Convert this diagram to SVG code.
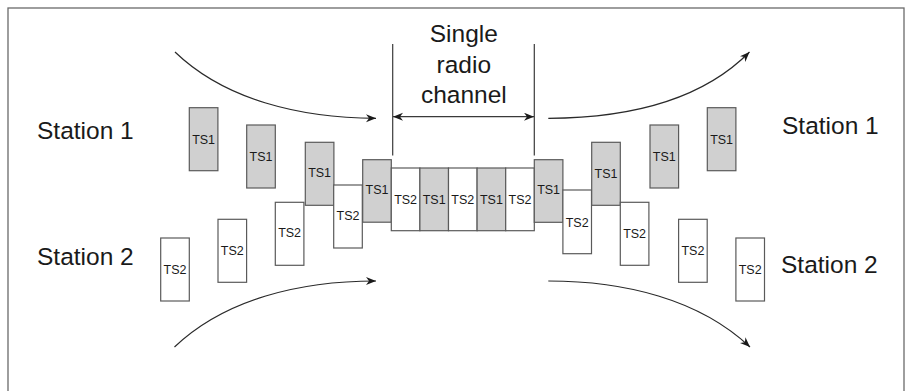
<svg xmlns="http://www.w3.org/2000/svg" width="911" height="391" viewBox="0 0 911 391">
  <style>
    .frame { fill: none; stroke: #6a6a6a; stroke-width: 1.3; }
    .ts1 { fill: #d0d0d0; stroke: #5a5a5a; stroke-width: 1.2; }
    .ts2 { fill: #ffffff; stroke: #5a5a5a; stroke-width: 1.2; }
    .slot { font-family: "Liberation Sans", Arial, sans-serif; font-size: 12.5px; fill: #1a1a1a; text-anchor: middle; }
    .big { font-family: "Liberation Sans", Arial, sans-serif; font-size: 24.5px; fill: #1a1a1a; }
    .mid { text-anchor: middle; }
    .flow { fill: none; stroke: #2a2a2a; stroke-width: 1.2; }
    .guide { fill: none; stroke: #3a3a3a; stroke-width: 1.2; }
  </style>
  <defs>
    <marker id="head" markerUnits="userSpaceOnUse" markerWidth="11" markerHeight="9" refX="10" refY="4" orient="auto-start-reverse">
      <path d="M0,0 L10,4 L0,8 L3,4 z" fill="#1a1a1a"/>
    </marker>
  </defs>

  <rect class="frame" x="8" y="8" width="896" height="390"/>

  <!-- station labels -->
  <text class="big" x="37" y="138.5">Station 1</text>
  <text class="big" x="37" y="264.5">Station 2</text>
  <text class="big" x="782" y="134">Station 1</text>
  <text class="big" x="781" y="273.3">Station 2</text>

  <!-- channel caption -->
  <g id="channel-label">
    <text class="big mid" x="463.8" y="41.7">Single</text>
    <text class="big mid" x="463.8" y="73.3">radio</text>
    <text class="big mid" x="463.8" y="103.3">channel</text>
  </g>

  <!-- incoming station 1 slots (left) -->
  <g id="in-s1-1"><rect class="ts1" x="189.3" y="107.7" width="28.6" height="63"/><text class="slot" x="203.6" y="143.5">TS1</text></g>
  <g id="in-s1-2"><rect class="ts1" x="246.7" y="125" width="28.6" height="63"/><text class="slot" x="261" y="160.8">TS1</text></g>
  <g id="in-s1-3"><rect class="ts1" x="305.3" y="142.3" width="28.6" height="63"/><text class="slot" x="319.6" y="177.2">TS1</text></g>
  <g id="in-s2-4"><rect class="ts2" x="333.7" y="185" width="28.6" height="63"/><text class="slot" x="348" y="220">TS2</text></g>
  <g id="in-s1-4"><rect class="ts1" x="362.7" y="159.7" width="28.6" height="62.5"/><text class="slot" x="377" y="194">TS1</text></g>

  <!-- incoming station 2 slots (left) -->
  <g id="in-s2-1"><rect class="ts2" x="160.7" y="238" width="28.6" height="63"/><text class="slot" x="175" y="273.7">TS2</text></g>
  <g id="in-s2-2"><rect class="ts2" x="218" y="219.3" width="28.6" height="63"/><text class="slot" x="232.3" y="254.7">TS2</text></g>
  <g id="in-s2-3"><rect class="ts2" x="275.3" y="202.3" width="28.6" height="63"/><text class="slot" x="289.6" y="237.3">TS2</text></g>

  <!-- shared channel -->
  <g id="channel">
    <rect class="ts2" x="391.3" y="168" width="28.6" height="62.7"/>
    <rect class="ts1" x="419.9" y="168" width="28.6" height="62.7"/>
    <rect class="ts2" x="448.5" y="168" width="28.6" height="62.7"/>
    <rect class="ts1" x="477.1" y="168" width="28.6" height="62.7"/>
    <rect class="ts2" x="505.7" y="168" width="28.6" height="62.7"/>
    <text class="slot" x="405.6" y="204">TS2</text>
    <text class="slot" x="434.2" y="204">TS1</text>
    <text class="slot" x="462.8" y="204">TS2</text>
    <text class="slot" x="491.4" y="204">TS1</text>
    <text class="slot" x="520" y="204">TS2</text>
  </g>

  <!-- outgoing slots (right) -->
  <g id="out-s1-1"><rect class="ts1" x="534.3" y="159.7" width="28.6" height="62.6"/><text class="slot" x="548.6" y="194">TS1</text></g>
  <g id="out-s2-1"><rect class="ts2" x="562.9" y="190" width="28.6" height="63.7"/><text class="slot" x="577.2" y="226.7">TS2</text></g>
  <g id="out-s1-2"><rect class="ts1" x="591.7" y="142.3" width="28.6" height="63"/><text class="slot" x="606" y="177.5">TS1</text></g>
  <g id="out-s2-2"><rect class="ts2" x="620.3" y="202.3" width="28.6" height="63"/><text class="slot" x="634.6" y="237.5">TS2</text></g>
  <g id="out-s1-3"><rect class="ts1" x="650" y="125" width="28.6" height="63"/><text class="slot" x="664.3" y="160.8">TS1</text></g>
  <g id="out-s2-3"><rect class="ts2" x="678.6" y="219.3" width="28.6" height="63"/><text class="slot" x="692.9" y="254.7">TS2</text></g>
  <g id="out-s1-4"><rect class="ts1" x="707.3" y="107.7" width="28.6" height="63"/><text class="slot" x="721.6" y="143.5">TS1</text></g>
  <g id="out-s2-4"><rect class="ts2" x="735.9" y="238" width="28.6" height="63"/><text class="slot" x="750.2" y="273.7">TS2</text></g>

  <!-- connectors -->
  <g id="connectors">
    <line class="guide" x1="392.7" y1="44" x2="392.7" y2="155.5"/>
    <line class="guide" x1="534.3" y1="44" x2="534.3" y2="155.5"/>
    <line class="guide" x1="393" y1="116.7" x2="534" y2="116.7" marker-start="url(#head)" marker-end="url(#head)"/>
    <path class="flow" d="M175,52 C225,100 300,118 376,118.3" marker-end="url(#head)"/>
    <path class="flow" d="M174.5,347 C225,299 300,281 376,281" marker-end="url(#head)"/>
    <path class="flow" d="M548.3,118.3 C624,118 699,103 749.5,52" marker-end="url(#head)"/>
    <path class="flow" d="M548.3,281 C624,281 699,299 750,347" marker-end="url(#head)"/>
  </g>
</svg>
